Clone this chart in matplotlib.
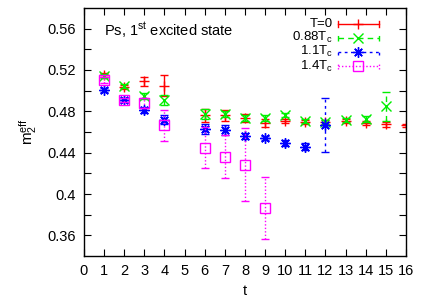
import matplotlib
matplotlib.use("Agg")
import matplotlib.pyplot as plt
from matplotlib.ticker import MultipleLocator, FixedLocator

plt.rcParams['font.family'] = ['Liberation Sans', 'DejaVu Sans']
plt.rcParams['mathtext.fontset'] = 'custom'
plt.rcParams['mathtext.rm'] = 'Liberation Sans'
plt.rcParams['mathtext.it'] = 'Liberation Sans'

# ---- data ----
t_T0 = [1, 2, 3, 4, 6, 7, 8, 9, 10, 11, 12, 13, 14, 15, 16]
m_T0 = [0.5155, 0.5035, 0.509, 0.505, 0.476, 0.476, 0.4736, 0.4688, 0.4705, 0.4697,
        0.4695, 0.4705, 0.469, 0.4673, 0.4663]
e_T0 = [0.002, 0.002, 0.004, 0.010, 0.006, 0.005, 0.004, 0.004, 0.002, 0.002,
        0.002, 0.002, 0.002, 0.002, 0.0015]

t_088 = [1, 2, 3, 4, 6, 7, 8, 9, 10, 11, 12, 13, 14, 15]
m_088 = [0.5145, 0.5042, 0.495, 0.491, 0.4772, 0.4772, 0.4734, 0.4734, 0.4767, 0.471,
         0.4697, 0.4718, 0.4728, 0.4848]
e_088 = [0.002, 0.002, 0.003, 0.005, 0.005, 0.003, 0.003, 0.003, 0.002, 0.002,
         0.002, 0.002, 0.003, 0.014]

t_11 = [1, 2, 3, 4, 6, 7, 8, 9, 10, 11, 12]
m_11 = [0.501, 0.491, 0.4816, 0.472, 0.4631, 0.4621, 0.456, 0.4544, 0.4495, 0.4459, 0.467]
e_11 = [0.002, 0.002, 0.003, 0.004, 0.005, 0.005, 0.003, 0.002, 0.003, 0.003, 0.026]

t_14 = [1, 2, 3, 4, 6, 7, 8, 9]
m_14 = [0.510, 0.491, 0.488, 0.4663, 0.445, 0.4362, 0.4284, 0.3866]
e_14 = [0.003, 0.002, 0.005, 0.015, 0.020, 0.021, 0.035, 0.030]

labels = ['T=0', '0.88T$_\\mathregular{c}$', '1.1T$_\\mathregular{c}$', '1.4T$_\\mathregular{c}$']
colors = ['#ff0000', '#00ee00', '#0000ff', '#ff00ff']
dashes = [None, (4, 3), (2, 2.5), (1, 1.5)]
markers = ['+', 'x', (8, 2, 0), 's']

series = [(t_T0, m_T0, e_T0), (t_088, m_088, e_088), (t_11, m_11, e_11), (t_14, m_14, e_14)]

FS = 10.5

fig = plt.figure(figsize=(4.27, 3.00), dpi=100)
ax = fig.add_axes([84/427, 1-256/300, 322/427, 248/300])

def msize(mk):
    return 6.5 if mk == 's' else 7.5

for (t, m, e), c, d, mk in zip(series, colors, dashes, markers):
    mfc = 'none' if mk == 's' else c
    cont = ax.errorbar(t, m, yerr=e, fmt='none', ecolor=c, elinewidth=1.0,
                       capsize=3, capthick=1.0)
    if d is not None:
        for lc in cont.lines[2]:
            lc.set_linestyle((0, d))
    ax.plot(t, m, linestyle='none', marker=mk, color=c, mfc=mfc, mec=c,
            ms=msize(mk), mew=1.0)

ax.set_xlim(0, 16)
ax.set_ylim(0.34, 0.58)
ax.xaxis.set_major_locator(MultipleLocator(1))
ax.yaxis.set_major_locator(FixedLocator([0.36, 0.40, 0.44, 0.48, 0.52, 0.56]))
ax.yaxis.set_minor_locator(FixedLocator([0.38, 0.42, 0.46, 0.50, 0.54]))
ax.set_yticklabels(['0.36', '0.4', '0.44', '0.48', '0.52', '0.56'])
ax.tick_params(which='both', direction='in', top=True, right=True, length=5,
               width=0.8, labelsize=FS, pad=6)
for s in ax.spines.values():
    s.set_linewidth(1.0)

ax.set_xlabel('t', fontsize=FS, labelpad=4)
ax.set_ylabel('m$^{\\mathregular{eff}}_{\\mathregular{2}}$', fontsize=FS + 0.5, labelpad=6)

ax.text(0.062, 0.911, 'Ps, 1$^{\\mathregular{st}}$ excited state', transform=ax.transAxes,
        fontsize=FS, va='center', ha='left')

# legend (gnuplot style)
ys = [0.934, 0.880, 0.823, 0.766]
x0, x1, xm = 0.788, 0.915, 0.851
for y, lab, c, d, mk in zip(ys, labels, colors, dashes, markers):
    ax.text(0.772, y, lab, transform=ax.transAxes, ha='right', va='center', fontsize=9.5)
    ls = '-' if d is None else (0, d)
    ax.plot([x0, x1], [y, y], transform=ax.transAxes, color=c, lw=1.0, linestyle=ls,
            clip_on=False)
    for xe in (x0, x1):
        ax.plot([xe, xe], [y - 0.012, y + 0.012], transform=ax.transAxes, color=c,
                lw=1.0, linestyle=ls, clip_on=False)
    mfc = 'none' if mk == 's' else c
    ax.plot([xm], [y], transform=ax.transAxes, marker=mk, color=c, mfc=mfc, mec=c,
            ms=msize(mk), mew=1.0, linestyle='none', clip_on=False)

fig.savefig('out.png', dpi=100)
